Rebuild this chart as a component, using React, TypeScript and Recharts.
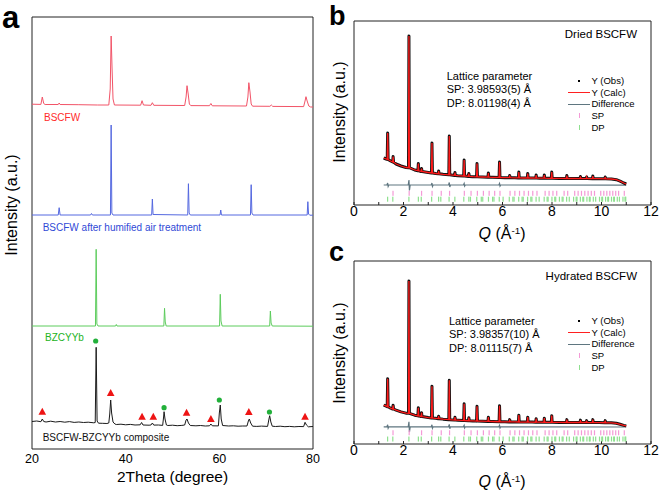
import React from 'react';
import { ComposedChart, Line, Scatter, XAxis, YAxis, ReferenceArea } from 'recharts';

const FONT = '"Liberation Sans", Arial, Helvetica, sans-serif';

// ---------------- Panel a : XRD patterns (stacked, a.u.) ----------------
const A_TICKS = [20, 40, 60, 80];

const A_RED: [number, number][] = [
  [20, 344.8], [21.9, 344.6], [22.2, 352], [22.5, 345.5], [22.8, 344.5], [25.6, 344.5], [25.8, 346], [26, 344.5],
  [30, 344.3], [34, 344], [36.4, 344], [36.7, 360], [36.9, 413], [37.1, 380], [37.3, 350], [37.6, 344],
  [43.2, 343.8], [43.5, 348.3], [43.8, 344], [45.4, 343.7], [45.7, 346.3], [46, 343.7],
  [52.6, 343.5], [52.9, 352], [53.1, 363.3], [53.35, 355], [53.6, 345], [53.9, 343.4],
  [57.9, 343.3], [58.2, 345.5], [58.5, 343.2], [65.8, 343], [66.1, 352], [66.3, 366.3], [66.55, 357], [66.8, 345], [67.1, 342.8],
  [70.8, 342.7], [71.1, 344], [71.4, 342.6], [78, 342.4], [78.3, 348], [78.5, 352.3], [78.75, 348], [79.1, 343], [79.5, 342], [80, 342],
];

const A_BLUE: [number, number][] = [
  [20, 234], [25.6, 234], [25.8, 241.3], [26, 234], [32.5, 234], [32.7, 235.5], [32.9, 234],
  [36.75, 234], [36.9, 324], [37.05, 236], [37.3, 234], [45.55, 234], [45.7, 250], [45.85, 234.5],
  [53.25, 234], [53.4, 265.3], [53.55, 236], [53.8, 234], [60.15, 234], [60.3, 239], [60.45, 234],
  [66.65, 234], [66.8, 264.3], [66.95, 236], [67.2, 234], [78.75, 234], [78.9, 247.3], [79.05, 235], [79.3, 233.8], [80, 233.8],
];

const A_GREEN: [number, number][] = [
  [20, 123], [33.55, 123], [33.7, 199.7], [33.85, 125], [34.1, 123], [37.85, 123], [38, 124.5], [38.15, 123],
  [48.15, 123], [48.3, 140.7], [48.45, 127], [48.65, 123], [60.05, 123], [60.2, 154.7], [60.35, 128], [60.6, 123],
  [70.75, 123], [70.9, 138], [71.05, 126], [71.3, 123], [80, 122.8],
];

const A_BLACK: [number, number][] = [
  [20, 27.5], [21, 28], [21.9, 27.3], [22.2, 30], [22.5, 27.5], [23, 27], [24, 27.8], [25, 27], [26, 27.5], [27, 26.8],
  [28, 27.4], [29, 26.6], [30, 27], [31, 26.5], [32, 26.8], [33.2, 26.2], [33.5, 26.5], [33.7, 101.7], [33.9, 28], [34.2, 25.8],
  [35, 25.7], [36, 25.5], [36.4, 26], [36.6, 35], [36.8, 49], [37.0, 36], [37.3, 27], [37.7, 25], [38, 24.5], [39, 24.8],
  [40, 24.2], [41, 24.6], [42, 24], [43.1, 24.2], [43.4, 26.5], [43.7, 24], [45, 23.8], [45.4, 24], [45.7, 26], [46, 23.9],
  [47, 24], [47.9, 23.6], [48.1, 32], [48.2, 37.3], [48.4, 30], [48.7, 24], [49, 23.5], [50, 23.8], [51, 23.3], [52, 23.6],
  [52.6, 24], [52.9, 29], [53.1, 30], [53.4, 26], [53.8, 23.5], [55, 23.2], [56, 23.5], [57, 23], [57.9, 23.2], [58.2, 25],
  [58.5, 23.2], [59.8, 23.1], [60, 36], [60.2, 44], [60.4, 30], [60.7, 23.5], [62, 23], [63, 23.2], [64, 22.8], [65, 23],
  [65.9, 23], [66.2, 28], [66.4, 30], [66.7, 26], [67.1, 22.8], [68, 22.6], [69, 22.9], [70.3, 22.6], [70.6, 30], [70.75, 33.3],
  [71, 27], [71.3, 22.8], [72, 22.5], [73, 22.8], [74, 22.3], [75, 22.6], [76, 22.2], [77, 22.5], [78, 22.4], [78.3, 26.7],
  [78.6, 24], [79, 22.2], [80, 22.5],
];

// BSCFW phase markers (triangles) and BZCYYb phase markers (dots)
const A_TRIANGLES: [number, number][] = [
  [22.2, 37.3], [36.8, 56], [43.5, 32.3], [45.9, 32.3], [53.0, 36.3], [58.2, 30], [66.3, 37], [78.3, 32.3],
];
const A_DOTS: [number, number][] = [
  [33.6, 108], [48.2, 41.3], [60.0, 49], [70.7, 37],
];

// ---------------- Panels b / c : Rietveld refinements ----------------
const Q_TICKS = [0, 1, 2, 3, 4, 5, 6, 7, 8, 9, 10, 11, 12];

const B_BASE: [number, number][] = [
  [1.2, 47], [1.3, 46], [1.48, 44], [1.7, 41], [1.9, 39], [2.1, 37.5], [2.45, 35], [3.0, 32.5], [3.3, 31.5], [3.6, 30.7],
  [4.2, 29.3], [4.8, 28.3], [5.2, 28], [5.6, 27.7], [6.1, 27.3], [6.5, 27.2], [6.85, 27], [7.2, 27], [7.5, 26.8], [7.85, 26.7],
  [8.3, 26.6], [8.9, 26.5], [9.3, 26.4], [9.9, 26.3], [10.4, 26], [10.6, 25.3], [10.75, 23.8], [10.9, 22], [11.0, 21],
];
// [Q, foot, top]
const B_PEAKS: [number, number, number][] = [
  [1.36, 45.5, 72], [1.58, 43, 48.5], [2.22, 37.3, 169], [2.60, 34.2, 41.5], [2.73, 33.5, 36.5], [3.15, 32, 62],
  [3.42, 31.2, 34], [3.85, 30.2, 69], [4.08, 29.6, 32.5], [4.45, 29, 45], [4.64, 28.6, 31.5], [4.97, 28.2, 41.5],
  [5.43, 27.8, 32], [5.88, 27.5, 43], [6.29, 27.3, 29.5], [6.66, 27.1, 33], [7.02, 27, 31.5], [7.36, 26.9, 30],
  [7.69, 26.8, 30], [7.99, 26.7, 33], [8.60, 26.5, 29.5], [9.15, 26.4, 28.5], [9.40, 26.4, 28], [9.65, 26.3, 29],
  [10.15, 26.2, 28],
];
const B_DIFF: [number, number][] = [
  [1.2, 20], [1.33, 20], [1.36, 22], [1.38, 18.5], [1.41, 20], [2.19, 20], [2.22, 25], [2.24, 14.5], [2.27, 20],
  [3.12, 20], [3.15, 22], [3.17, 18.5], [3.2, 20], [3.82, 20], [3.85, 22.5], [3.87, 18], [3.9, 20],
  [4.42, 20], [4.45, 21.5], [4.47, 18.8], [4.5, 20], [5.85, 20], [5.88, 21.5], [5.9, 18.8], [5.93, 20], [11.0, 19.8],
];

const C_BASE: [number, number][] = [
  [1.2, 39], [1.3, 38], [1.48, 36], [1.7, 34], [1.9, 32.3], [2.1, 31], [2.45, 29], [3.0, 26.6], [3.3, 25.8], [3.6, 25],
  [4.2, 24], [4.8, 23.2], [5.2, 22.9], [5.6, 22.6], [6.1, 22.3], [6.5, 22.2], [6.85, 22], [7.2, 22], [7.5, 21.9], [7.85, 21.8],
  [8.3, 21.7], [8.9, 21.6], [9.3, 21.6], [9.9, 21.5], [10.4, 21.3], [10.6, 20.8], [10.75, 19.8], [10.9, 18.7], [11.0, 18.2],
];
const C_PEAKS: [number, number, number][] = [
  [1.36, 37.5, 65.5], [1.58, 35.2, 39], [2.22, 30.8, 164], [2.60, 28.3, 36.5], [2.73, 27.6, 31.5], [3.15, 26.2, 58],
  [3.42, 25.5, 28], [3.85, 24.5, 64], [4.08, 24.1, 27], [4.45, 23.6, 40.5], [4.64, 23.4, 26.5], [4.97, 23, 38],
  [5.43, 22.7, 27], [5.88, 22.4, 38.5], [6.29, 22.2, 24.5], [6.66, 22.1, 29], [7.02, 22, 27], [7.36, 21.9, 25.5],
  [7.69, 21.8, 26], [7.99, 21.8, 28.5], [8.60, 21.6, 24.5], [9.15, 21.6, 24], [9.40, 21.6, 23.5], [9.65, 21.5, 24.5],
  [10.15, 21.4, 23.5],
];
const C_DIFF: [number, number][] = [
  [1.2, 17.3], [1.33, 17.3], [1.36, 19.3], [1.38, 15.8], [1.41, 17.3], [2.19, 17.3], [2.22, 22.3], [2.24, 12], [2.27, 17.3],
  [3.12, 17.3], [3.15, 19.3], [3.17, 15.8], [3.2, 17.3], [3.82, 17.3], [3.85, 19.8], [3.87, 15.3], [3.9, 17.3],
  [4.42, 17.3], [4.45, 18.8], [4.47, 16], [4.5, 17.3], [5.85, 17.3], [5.88, 18.8], [5.9, 16], [5.93, 17.3], [11.0, 17.1],
];

// Bragg reflection positions (Q, 1/Å)
const SP_Q = [
  1.576, 2.229, 2.730, 3.153, 3.525, 3.861, 4.458, 4.729, 4.985, 5.228, 5.460, 5.683, 5.898, 6.305, 6.499, 6.688,
  6.871, 7.049, 7.223, 7.393, 7.722, 7.882, 8.038, 8.191, 8.489, 8.634, 8.917, 9.055, 9.191, 9.325, 9.458, 9.588,
  9.717, 9.969, 10.093, 10.215, 10.336, 10.456, 10.574, 10.691, 10.921,
];
const DP_Q = [
  1.358, 1.568, 2.218, 2.601, 2.717, 3.137, 3.418, 3.507, 3.842, 4.075, 4.436, 4.640, 4.705, 4.960, 5.143, 5.202,
  5.433, 5.601, 5.655, 5.869, 6.024, 6.274, 6.419, 6.467, 6.655, 6.792, 6.837, 7.015, 7.145, 7.188, 7.357, 7.481,
  7.684, 7.803, 7.842, 7.998, 8.112, 8.150, 8.300, 8.410, 8.447, 8.591, 8.698, 8.873, 8.976, 9.010, 9.146, 9.246,
  9.279, 9.411, 9.509, 9.541, 9.669, 9.764, 9.920, 10.013, 10.043, 10.165, 10.255, 10.285, 10.404, 10.493, 10.522,
  10.638, 10.724, 10.867, 10.951, 10.979,
];

const LEGEND_ITEMS = ['Y (Obs)', 'Y (Calc)', 'Difference', 'SP', 'DP'];

// ---------------- helpers ----------------
const pts = (a: [number, number][]) => a.map(([x, y]) => ({ x, y }));
const profile = (base: [number, number][], peaks: [number, number, number][], w: number) => {
  const rows = pts(base);
  peaks.forEach(([q, foot, top]) => {
    rows.push({ x: q - w, y: foot }, { x: q, y: top }, { x: q + w, y: foot });
  });
  return rows.sort((a, b) => a.x - b.x);
};
const rowOf = (qs: number[], row: number) => qs.map((x) => ({ x, y: row }));

const Triangle = (p: any) => {
  const { cx, cy } = p;
  return <polygon points={`${cx},${cy - 4} ${cx - 3.8},${cy + 3} ${cx + 3.8},${cy + 3}`} fill="#ee1414" />;
};
const Dot = (p: any) => <circle cx={p.cx} cy={p.cy} r={2.6} fill="#22b03a" />;
const TickMark = (color: string) => (p: any) => (
  <rect x={p.cx - 0.6} y={p.cy - 2.5} width={1.2} height={5} fill={color} />
);

const QTick = (p: any) => {
  const v = p.payload.value;
  if (v % 2 !== 0) return <g />;
  return (
    <text x={p.x} y={p.y} dy="0.71em" textAnchor="middle" fontSize={14} fontFamily={FONT} fill="#000">
      {v}
    </text>
  );
};

type TxtProps = { x: number; y: number; anchor?: 'start' | 'middle' | 'end'; size: number; color?: string; bold?: boolean; rotate?: boolean; children: React.ReactNode };
const Txt = ({ x, y, anchor = 'start', size, color = '#000', bold, rotate, children }: TxtProps) => {
  const tx = anchor === 'start' ? '0' : anchor === 'middle' ? '-50%' : '-100%';
  return (
    <div
      style={{
        position: 'absolute', left: x, top: y, whiteSpace: 'nowrap', fontFamily: FONT, fontSize: size,
        lineHeight: 1, color, fontWeight: bold ? 700 : 400,
        transform: rotate ? 'translate(-50%,-50%) rotate(-90deg)' : `translate(${tx},-50%)`,
      }}
    >
      {children}
    </div>
  );
};

const QTitle = () => (
  <span>
    <span style={{ fontStyle: 'italic' }}>Q</span> (Å<span style={{ fontSize: '0.62em', position: 'relative', top: '-0.55em' }}>-1</span>)
  </span>
);

const Legend = ({ left, top }: { left: number; top: number }) => (
  <div style={{ position: 'absolute', left, top, fontFamily: FONT, fontSize: 9.5, lineHeight: '11.6px' }}>
    {LEGEND_ITEMS.map((name, i) => (
      <div key={name} style={{ position: 'relative', height: 11.6, whiteSpace: 'nowrap' }}>
        <span style={{ position: 'absolute', left: 0, top: 0, width: 23, height: 11.6 }}>
          {i === 0 && <span style={{ position: 'absolute', left: 10, top: 4.5, width: 2.4, height: 2.4, background: '#000' }} />}
          {i === 1 && <span style={{ position: 'absolute', left: 0, top: 5.3, width: 22, height: 1.3, background: '#ff2020' }} />}
          {i === 2 && <span style={{ position: 'absolute', left: 0, top: 5.3, width: 22, height: 1.3, background: '#5f7680' }} />}
          {i === 3 && <span style={{ position: 'absolute', left: 10.5, top: 3.5, width: 1.3, height: 4.5, background: '#f49ad6' }} />}
          {i === 4 && <span style={{ position: 'absolute', left: 10.5, top: 3.5, width: 1.3, height: 4.5, background: '#8fe08f' }} />}
        </span>
        <span style={{ position: 'absolute', left: 23.5, top: 0 }}>{name}</span>
      </div>
    ))}
  </div>
);

// ---------------- Panels ----------------
const PanelA = () => (
  <div style={{ position: 'absolute', left: 0, top: 0 }}>
    <ComposedChart width={330} height={494} margin={{ top: 17, right: 17, left: 32, bottom: 15 }}>
      <XAxis
        type="number" dataKey="x" domain={[20, 80]} ticks={A_TICKS} height={30} axisLine={false} tickLine={false}
        tickSize={0} tickMargin={5} tick={{ fontSize: 12.5, fill: '#000', fontFamily: FONT }}
      />
      <YAxis type="number" dataKey="y" domain={[0, 432]} hide />
      <ReferenceArea x1={20} x2={80} y1={0} y2={432} fill="none" stroke="#222" strokeWidth={1} ifOverflow="visible" />
      <Line data={pts(A_RED)} dataKey="y" stroke="#f25468" strokeWidth={1} dot={false} isAnimationActive={false} />
      <Line data={pts(A_BLUE)} dataKey="y" stroke="#5468e0" strokeWidth={1} dot={false} isAnimationActive={false} />
      <Line data={pts(A_GREEN)} dataKey="y" stroke="#5ccc5c" strokeWidth={1} dot={false} isAnimationActive={false} />
      <Line data={pts(A_BLACK)} dataKey="y" stroke="#1a1a1a" strokeWidth={1} dot={false} isAnimationActive={false} />
      <Scatter data={pts(A_TRIANGLES)} shape={Triangle} isAnimationActive={false} />
      <Scatter data={pts(A_DOTS)} shape={Dot} isAnimationActive={false} />
    </ComposedChart>
  </div>
);

type RProps = {
  top: number; height: number; mTop: number; mBottom: number;
  base: [number, number][]; peaks: [number, number, number][]; diff: [number, number][];
  spRow: number; dpRow: number;
};
const RietveldPanel = ({ top, height, mTop, mBottom, base, peaks, diff, spRow, dpRow }: RProps) => {
  const prof = profile(base, peaks, 0.018);
  return (
    <div style={{ position: 'absolute', left: 330, top }}>
      <ComposedChart width={331} height={height} margin={{ top: mTop, right: 10, left: 24, bottom: mBottom }}>
        <XAxis
          type="number" dataKey="x" domain={[0, 12]} ticks={Q_TICKS} height={30} axisLine={false} stroke="#222"
          tickSize={-3} tickMargin={4} tick={QTick} interval={0}
        />
        <YAxis type="number" dataKey="y" domain={[0, 184]} hide />
        <ReferenceArea x1={0} x2={12} y1={0} y2={184} fill="none" stroke="#222" strokeWidth={1} ifOverflow="visible" />
        <Line data={pts(diff)} dataKey="y" stroke="#5f7680" strokeWidth={1.2} dot={false} isAnimationActive={false} />
        <Scatter data={rowOf(SP_Q, spRow)} shape={TickMark('#f49ad6')} isAnimationActive={false} />
        <Scatter data={rowOf(DP_Q, dpRow)} shape={TickMark('#8fe08f')} isAnimationActive={false} />
        <Line data={prof} dataKey="y" stroke="#111" strokeWidth={3} strokeLinejoin="round" dot={false} isAnimationActive={false} />
        <Line data={prof} dataKey="y" stroke="#ff1a1a" strokeWidth={1.3} dot={false} isAnimationActive={false} />
      </ComposedChart>
    </div>
  );
};

export default function App() {
  return (
    <div style={{ position: 'absolute', left: 0, top: 0, width: 661, height: 494, background: '#fff', overflow: 'hidden' }}>
      <PanelA />
      <RietveldPanel top={0} height={247} mTop={21} mBottom={12} base={B_BASE} peaks={B_PEAKS} diff={B_DIFF} spRow={11.7} dpRow={5.8} />
      <RietveldPanel top={247} height={247} mTop={14} mBottom={20} base={C_BASE} peaks={C_PEAKS} diff={C_DIFF} spRow={11.3} dpRow={5} />

      {/* panel a texts */}
      <Txt x={2} y={16.5} size={31} bold>a</Txt>
      <Txt x={12} y={205} size={16} rotate>Intensity (a.u.)</Txt>
      <Txt x={172.5} y={477} size={15.5} anchor="middle">2Theta (degree)</Txt>
      <Txt x={44} y={118} size={10} color="#ff2a2a">BSCFW</Txt>
      <Txt x={42.7} y={227.7} size={10} color="#2f49d6">BSCFW after humified air treatment</Txt>
      <Txt x={45} y={337.7} size={10} color="#22b322">BZCYYb</Txt>
      <Txt x={42.7} y={437.7} size={10} color="#111">BSCFW-BZCYYb composite</Txt>

      {/* panel b texts */}
      <Txt x={329} y={16} size={27} bold>b</Txt>
      <Txt x={340} y={111.5} size={16} rotate>Intensity (a.u.)</Txt>
      <Txt x={502} y={234} size={16} anchor="middle"><QTitle /></Txt>
      <Txt x={637} y={34.7} size={11.5} anchor="end">Dried BSCFW</Txt>
      <Txt x={446.7} y={75.5} size={11}>Lattice parameter</Txt>
      <Txt x={446.7} y={89} size={11}>SP: 3.98593(5) Å</Txt>
      <Txt x={446.7} y={102.5} size={11}>DP: 8.01198(4) Å</Txt>
      <Legend left={568} top={75.2} />

      {/* panel c texts */}
      <Txt x={329} y={252} size={27} bold>c</Txt>
      <Txt x={339.5} y={352.5} size={16} rotate>Intensity (a.u.)</Txt>
      <Txt x={502} y={482} size={16} anchor="middle"><QTitle /></Txt>
      <Txt x={637} y={276.7} size={11.5} anchor="end">Hydrated BSCFW</Txt>
      <Txt x={449} y={320.5} size={11}>Lattice parameter</Txt>
      <Txt x={449} y={334} size={11}>SP: 3.98357(10) Å</Txt>
      <Txt x={449} y={347.5} size={11}>DP: 8.01115(7) Å</Txt>
      <Legend left={568} top={315.2} />
    </div>
  );
}
